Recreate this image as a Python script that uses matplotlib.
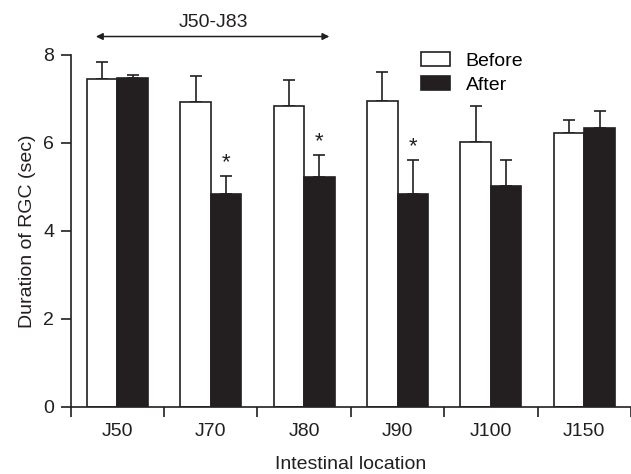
import numpy as np
import matplotlib
matplotlib.use('Agg')
import matplotlib.pyplot as plt

locations = ['J50', 'J70', 'J80', 'J90', 'J100', 'J150']
before = [7.45, 6.92, 6.84, 6.95, 6.02, 6.23]
before_err = [0.40, 0.61, 0.58, 0.66, 0.81, 0.28]
after = [7.48, 4.83, 5.22, 4.83, 5.03, 6.34]
after_err = [0.07, 0.41, 0.51, 0.78, 0.58, 0.39]
signif = [False, True, True, True, False, False]

ink = '#231f20'
plt.rcParams['font.family'] = ['Liberation Sans', 'DejaVu Sans']

fig = plt.figure(figsize=(6.31, 4.74), dpi=100)
ax = fig.add_axes([0.112, 0.142, 0.888, 0.742])

x = np.arange(len(locations))
w = 0.326
ax.bar(x - w/2, before, w, color='white', edgecolor=ink, linewidth=1.2, label='Before', zorder=2)
ax.bar(x + w/2, after, w, color=ink, edgecolor=ink, linewidth=1.2, label='After', zorder=2)

# upper error bars only
ax.errorbar(x - w/2, before, yerr=[np.zeros(len(x)), before_err], fmt='none',
            ecolor=ink, elinewidth=1.2, capsize=4.2, capthick=1.2, zorder=1)
ax.errorbar(x + w/2, after, yerr=[np.zeros(len(x)), after_err], fmt='none',
            ecolor=ink, elinewidth=1.2, capsize=4.2, capthick=1.2, zorder=1)

for i, s in enumerate(signif):
    if s:
        ax.text(x[i] + w/2, after[i] + after_err[i] + 0.3, '*', ha='center', va='center',
                fontsize=16, color=ink)

# bracket arrow over the proximal segment
ax.annotate('', xy=(-0.26, 8.42), xytext=(2.30, 8.42), annotation_clip=False,
            arrowprops=dict(arrowstyle='<|-|>', color=ink, lw=1.1, mutation_scale=10))
ax.text(1.03, 8.55, 'J50-J83', ha='center', va='bottom', fontsize=14, color=ink)

ax.set_xlim(-0.5, 5.5)
ax.set_ylim(0, 8)
ax.set_yticks([0, 2, 4, 6, 8])
ax.set_xticks(x)
ax.set_xticklabels(locations)
ax.set_xticks(np.arange(-0.5, 6, 1), minor=True)
ax.tick_params(axis='x', which='major', length=0, pad=12, labelsize=14, colors=ink)
ax.tick_params(axis='x', which='minor', length=7, width=1.2, color=ink, direction='out')
ax.tick_params(axis='y', length=7, width=1.2, color=ink, labelsize=14, labelcolor=ink, pad=5)

for side in ['top', 'right']:
    ax.spines[side].set_visible(False)
for side in ['left', 'bottom']:
    ax.spines[side].set_color(ink)
    ax.spines[side].set_linewidth(1.2)

ax.set_xlabel('Intestinal location', fontsize=14, color=ink, labelpad=11)
ax.set_ylabel('Duration of RGC (sec)', fontsize=14, color=ink, labelpad=5)

ax.legend(loc='upper left', bbox_to_anchor=(0.594, 1.058), frameon=False, fontsize=14,
          handlelength=1.5, handleheight=0.75, handletextpad=0.8, labelspacing=0.3)

fig.savefig('out.png', dpi=100)
